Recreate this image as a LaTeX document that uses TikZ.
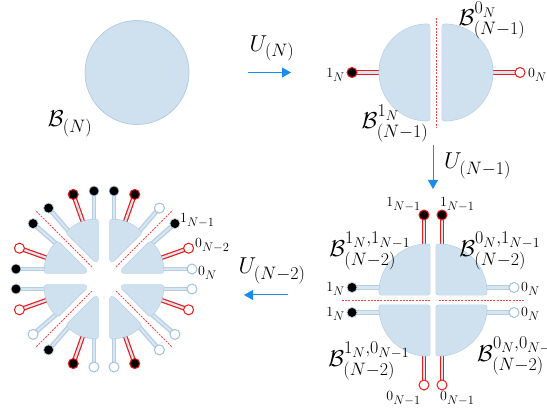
\documentclass[tikz,border=0pt]{standalone}
\usepackage{fix-cm}
\usepackage{amsmath}
\usetikzlibrary{arrows.meta,calc}
\DeclareMathSizes{23}{23}{18}{14}
\DeclareMathSizes{14}{14}{12.5}{9.5}

\definecolor{pcfill}{RGB}{207,225,238}
\definecolor{pcline}{RGB}{180,205,226}
\definecolor{stkout}{RGB}{180,206,227}
\definecolor{stkin}{RGB}{216,230,242}
\definecolor{wbline}{RGB}{160,194,222}
\definecolor{redc}{RGB}{238,24,24}
\definecolor{dashc}{RGB}{250,70,70}
\definecolor{arrc}{RGB}{25,140,240}

\tikzset{
  pc/.style={fill=pcfill, draw=pcfill, line width=4.6pt, line join=round,
    preaction={draw=pcline, line width=5.8pt, line join=round}},
  rstk/.style={draw=redc, double=stkin, double distance=2.2pt, line width=1.2pt},
  bstk/.style={draw=stkout, double=stkin, double distance=2.2pt, line width=1.3pt},
  ballbase/.style={circle, minimum size=10pt, inner sep=0pt},
  bb/.style={ballbase, fill=black, draw=stkout, line width=0.7pt},
  br/.style={ballbase, fill=black, draw=redc, line width=1pt},
  wb/.style={ballbase, fill=white, draw=wbline, line width=1pt},
  wr/.style={ballbase, fill=white, draw=redc, line width=1pt},
  rdash/.style={draw=dashc, line width=0.8pt, dash pattern=on 2pt off 1.2pt},
  arr/.style={draw=arrc, line width=1pt, -{Triangle[length=9pt,width=10pt]}},
  biglab/.style={inner sep=0pt, font=\fontsize{23}{27}\selectfont},
  smlab/.style={inner sep=0pt, font=\fontsize{14}{17}\selectfont}
}

\begin{document}
\begin{tikzpicture}[x=1pt,y=1pt]
\useasboundingbox (0,0) rectangle (547,411);
\clip (0,0) rectangle (547,411);

% ---------- stage 1 ----------
\node[circle, fill=pcfill, draw=pcline, line width=0.8pt, minimum size=104pt, inner sep=0pt] (full) at (137,338.5) {};
\node[biglab] (lBN) at (70,287) {$\mathcal{B}_{(N)}$};

\coordinate (a1s) at (248,338.5);
\coordinate (a1e) at (291,338.5);
\draw[arr] (a1s) -- (a1e);
\node[biglab] (lU1) at (272,362.5) {$U_{(N)}$};

% ---------- stage 2 ----------
\coordinate (k2l) at (352,338.5);
\coordinate (k2r) at (520,338.5);
\coordinate (s2l) at (395,338.5);
\coordinate (s2r) at (477,338.5);
\draw[rstk] (s2l) -- (k2l);
\draw[rstk] (s2r) -- (k2r);
\node[br] (ball2l) at (k2l) {};
\node[wr] (ball2r) at (k2r) {};
\path[pc] (427.5,338.5) -- ++(90:46) arc[start angle=90, end angle=270, radius=46] -- cycle;
\path[pc] (444.5,338.5) -- ++(-90:46) arc[start angle=-90, end angle=90, radius=46] -- cycle;
\coordinate (d2t) at (436,393);
\coordinate (d2b) at (436,283);
\draw[rdash] (d2t) -- (d2b);
\node[smlab, anchor=base east] (l2a) at (345,333) {$1_N$};
\node[smlab, anchor=base west] (l2b) at (528,333) {$0_N$};
\node[biglab, anchor=north] (lB0) at (492,409) {$\mathcal{B}^{0_N}_{(N-1)}$};
\node[biglab, anchor=north] (lB1) at (395,306) {$\mathcal{B}^{1_N}_{(N-1)}$};

\coordinate (a2s) at (433,266);
\coordinate (a2e) at (433,222);
\draw[arr] (a2s) -- (a2e);
\node[biglab, anchor=west] (lU2) at (444,245) {$U_{(N-1)}$};

% ---------- stage 3 ----------
\foreach \nm/\sx/\sy/\bx/\by/\ss/\bs in {
  a/390/123.5/352/123.5/bstk/bb,
  b/390/98.5/352/98.5/bstk/bb,
  c/476/123.5/514/123.5/bstk/wb,
  d/476/98.5/514/98.5/bstk/wb,
  e/424/150/424/196/rstk/br,
  f/442/150/442/196/rstk/br,
  g/424/72/424/26/rstk/wr,
  h/442/72/442/26/rstk/wr}
{
  \coordinate (k3\nm) at (\bx,\by);
  \coordinate (s3\nm) at (\sx,\sy);
  \draw[\ss] (s3\nm) -- (k3\nm);
  \node[\bs] (ball3\nm) at (k3\nm) {};
}
\path[pc] (427.5,118.5) -- ++(180:46) arc[start angle=180, end angle=90, radius=46] -- cycle;
\path[pc] (438.5,118.5) -- ++(0:46) arc[start angle=0, end angle=90, radius=46] -- cycle;
\path[pc] (427.5,103.5) -- ++(180:46) arc[start angle=180, end angle=270, radius=46] -- cycle;
\path[pc] (438.5,103.5) -- ++(0:46) arc[start angle=0, end angle=-90, radius=46] -- cycle;
\coordinate (d3a) at (342,111);
\coordinate (d3b) at (430,111);
\coordinate (d3c) at (439,111);
\coordinate (d3d) at (525,111);
\draw[rdash] (d3a) -- (d3b);
\draw[rdash] (d3c) -- (d3d);

\node[smlab, anchor=base east] (l3a) at (421,204) {$1_{N-1}$};
\node[smlab, anchor=base west] (l3b) at (440,204) {$1_{N-1}$};
\node[smlab, anchor=base east] (l3c) at (421,10) {$0_{N-1}$};
\node[smlab, anchor=base west] (l3d) at (440,10) {$0_{N-1}$};
\node[smlab, anchor=base east] (l3e) at (345,119) {$1_N$};
\node[smlab, anchor=base east] (l3f) at (345,94) {$1_N$};
\node[smlab, anchor=base west] (l3g) at (521,119) {$0_N$};
\node[smlab, anchor=base west] (l3h) at (521,94) {$0_N$};
\node[biglab, anchor=north] (lB3a) at (370,179) {$\mathcal{B}^{1_N,1_{N-1}}_{(N-2)}$};
\node[biglab, anchor=north] (lB3b) at (500,179) {$\mathcal{B}^{0_N,1_{N-1}}_{(N-2)}$};
\node[biglab, anchor=north] (lB3c) at (369,69) {$\mathcal{B}^{1_N,0_{N-1}}_{(N-2)}$};
\node[biglab, anchor=north west] (lB3d) at (477,74) {$\mathcal{B}^{0_N,0_{N-1}}_{(N-2)}$};

\coordinate (a3s) at (288,116);
\coordinate (a3e) at (244,116);
\draw[arr] (a3s) -- (a3e);
\node[biglab] (lU3) at (272,140) {$U_{(N-2)}$};

% ---------- stage 4 ----------
\coordinate (O) at (104,132);
% angled sticks
\foreach \ang/\k/\bs/\ss in {
  20/0/wr/rstk, 38/0/bb/bstk, 52/1/wb/bstk, 70/1/br/rstk,
  110/2/br/rstk, 128/2/bb/bstk, 142/3/bb/bstk, 160/3/wr/rstk,
  200/4/wr/rstk, 218/4/wb/bstk, 232/5/bb/bstk, 250/5/br/rstk,
  290/6/br/rstk, 308/6/wb/bstk, 322/7/wb/bstk, 340/7/wr/rstk}
{
  \coordinate (ap\ang) at ($(O)+({45*\k+22.5}:15)$);
  \coordinate (k4\ang) at ($(O)+(\ang:90)$);
  \coordinate (s4\ang) at ($(ap\ang)!38pt!(k4\ang)$);
  \draw[\ss] (s4\ang) -- (k4\ang);
  \node[\bs] (ball4\ang) at (k4\ang) {};
}
% sticks parallel to the axes
\foreach \nm/\A/\D/\bs in {
  p/0/90/wb, q/90/0/bb, r/90/180/bb, s/180/90/bb,
  t/180/270/bb, u/270/180/wb, v/270/0/wb, w/0/270/wb}
{
  \coordinate (k4\nm) at ($(O)+(\A:88)+(\D:10)$);
  \coordinate (s4\nm) at ($(O)+(\A:40)+(\D:10)$);
  \draw[bstk] (s4\nm) -- (k4\nm);
  \node[\bs] (ball4\nm) at (k4\nm) {};
}
% pieces
\foreach \k in {0,...,7}
{
  \path[pc] ($(O)+({45*\k+22.5}:21.4)$) -- ++({45*\k}:37.5)
    arc[start angle={45*\k}, delta angle=45, radius=37.5] -- cycle;
}
% diagonal dashed lines
\foreach \ang in {45,135,225,315}
{
  \coordinate (di\ang) at ($(O)+(\ang:17)$);
  \coordinate (do\ang) at ($(O)+(\ang:97)$);
  \draw[rdash] (di\ang) -- (do\ang);
}
\node[smlab, anchor=base west] (l4a) at (180,188) {$1_{N-1}$};
\node[smlab, anchor=base west] (l4b) at (195,163) {$0_{N-2}$};
\node[smlab, anchor=base west] (l4c) at (198,135.5) {$0_N$};
\end{tikzpicture}
\end{document}
